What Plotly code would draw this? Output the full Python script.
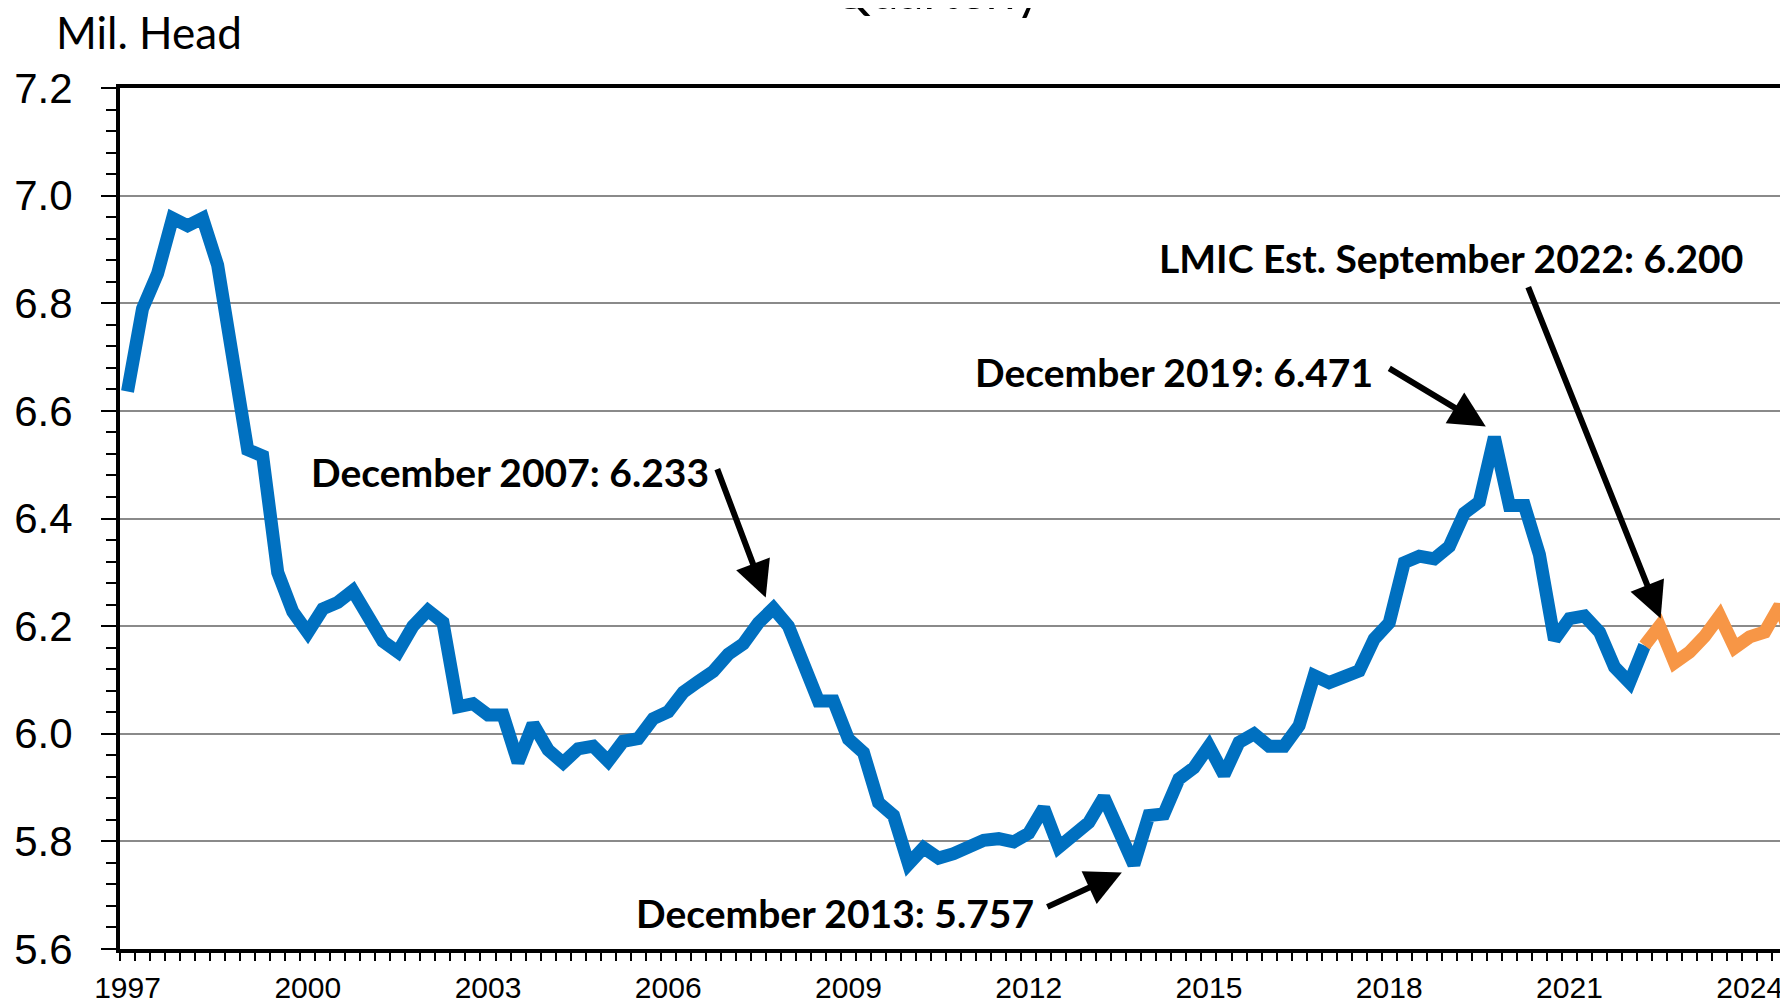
import plotly.graph_objects as go

# Quarterly inventory, million head, starting March 1997 (index 0)
inventory = [
    6.636, 6.790, 6.855, 6.958, 6.944, 6.958, 6.871, 6.685, 6.528, 6.516,
    6.300, 6.227, 6.188, 6.232, 6.244, 6.266, 6.222, 6.172, 6.152, 6.200,
    6.229, 6.207, 6.050, 6.056, 6.035, 6.035, 5.947, 6.018, 5.970, 5.946,
    5.972, 5.977, 5.949, 5.986, 5.991, 6.028, 6.041, 6.077, 6.097, 6.116,
    6.148, 6.167, 6.206, 6.233, 6.200, 6.129, 6.061, 6.061, 5.990, 5.965,
    5.872, 5.848, 5.758, 5.788, 5.769, 5.777, 5.787, 5.802, 5.805, 5.799,
    5.815, 5.862, 5.789, 5.816, 5.835, 5.882, 5.818, 5.757, 5.848, 5.851,
    5.916, 5.937, 5.977, 5.924, 5.984, 6.000, 5.977, 5.977, 6.015, 6.108,
    6.095, 6.107, 6.117, 6.176, 6.206, 6.318, 6.330, 6.325, 6.348, 6.410,
    6.431, 6.551, 6.424, 6.424, 6.333, 6.175, 6.214, 6.219, 6.189, 6.124,
    6.095, 6.164,
]
# LMIC estimate / forecast, starting where the actual series ends
estimate = [6.164, 6.200, 6.132, 6.152, 6.181, 6.219, 6.160, 6.180, 6.189, 6.238, 6.160]

year_labels = ["1997", "2000", "2003", "2006", "2009", "2012", "2015", "2018", "2021", "2024"]

x_actual = list(range(len(inventory)))
x_est = list(range(len(inventory) - 1, len(inventory) - 1 + len(estimate)))
label_pos = [i * 12 for i in range(len(year_labels))]

BLUE = "#0070C0"
ORANGE = "#F79646"
TICK_FONT = "Liberation Sans, Arial, sans-serif"
TEXT_FONT = "Lato, Open Sans, sans-serif"

fig = go.Figure()
fig.add_trace(go.Scatter(x=x_actual, y=inventory, mode="lines",
                         line=dict(color=BLUE, width=13), hoverinfo="skip"))
fig.add_trace(go.Scatter(x=x_est, y=estimate, mode="lines",
                         line=dict(color=ORANGE, width=13), hoverinfo="skip"))

fig.update_xaxes(
    range=[-0.5, 110.55], automargin=False,
    tickvals=label_pos, ticktext=year_labels,
    ticks="", showgrid=False, zeroline=False,
    showline=True, linecolor="black", linewidth=4, mirror=True,
    tickfont=dict(family=TICK_FONT, size=30, color="black"),
    ticklabelstandoff=9,
    minor=dict(tick0=-0.5, dtick=1, ticks="outside", ticklen=8, tickwidth=2,
               tickcolor="black", showgrid=False),
)
fig.update_yaxes(
    range=[5.6, 7.2], dtick=0.2, tickformat=".1f", automargin=False,
    ticks="outside", ticklen=15, tickwidth=2, tickcolor="black",
    showgrid=True, gridcolor="#8a8a8a", gridwidth=2, zeroline=False,
    showline=True, linecolor="black", linewidth=4,
    tickfont=dict(family=TICK_FONT, size=42, color="black"),
    ticklabelstandoff=20,
    minor=dict(dtick=0.04, ticks="outside", ticklen=10, tickwidth=2,
               tickcolor="black", showgrid=False),
)

bold = dict(family=TEXT_FONT, size=39, color="black")

# callout labels
labels = [
    (25.45, 6.486, "December 2007: 6.233"),
    (69.67, 6.672, "December 2019: 6.471"),
    (88.1, 6.884, "LMIC Est. September 2022: 6.200"),
    (47.1, 5.666, "December 2013: 5.757"),
]
for lx, ly, txt in labels:
    fig.add_annotation(x=lx, y=ly, text="<b>%s</b>" % txt, showarrow=False,
                       font=bold, xanchor="center", yanchor="middle")

# arrows: tip in data coords, tail offset in px
arrows = [
    (42.49, 6.253, -49, -130),
    (90.43, 6.571, -98, -59),
    (102.07, 6.214, -133, -333),
    (66.2, 5.742, -76, 35),
]
for tx, ty, ax, ay in arrows:
    fig.add_annotation(x=tx, y=ty, ax=ax, ay=ay, text="", showarrow=True,
                       arrowhead=2, arrowsize=1.2, arrowwidth=6,
                       arrowcolor="black", standoff=0)

fig.add_annotation(xref="paper", yref="paper", x=-0.0396, y=1.065,
                   text="Mil. Head", showarrow=False, xanchor="left",
                   yanchor="middle", font=dict(family=TEXT_FONT, size=44, color="black"))
fig.add_annotation(xref="paper", yref="paper", x=0.4898, y=1.077,
                   text="Quarterly", showarrow=False, xanchor="center",
                   yanchor="bottom", font=dict(family=TEXT_FONT, size=50, color="black"))

# page body adds an 8px offset, so the figure is 8px smaller each way
fig.update_layout(
    width=1780, height=996,
    margin=dict(l=112, r=0, t=80, b=55),
    paper_bgcolor="white", plot_bgcolor="white",
    showlegend=False,
)

fig.write_html("out.html")
